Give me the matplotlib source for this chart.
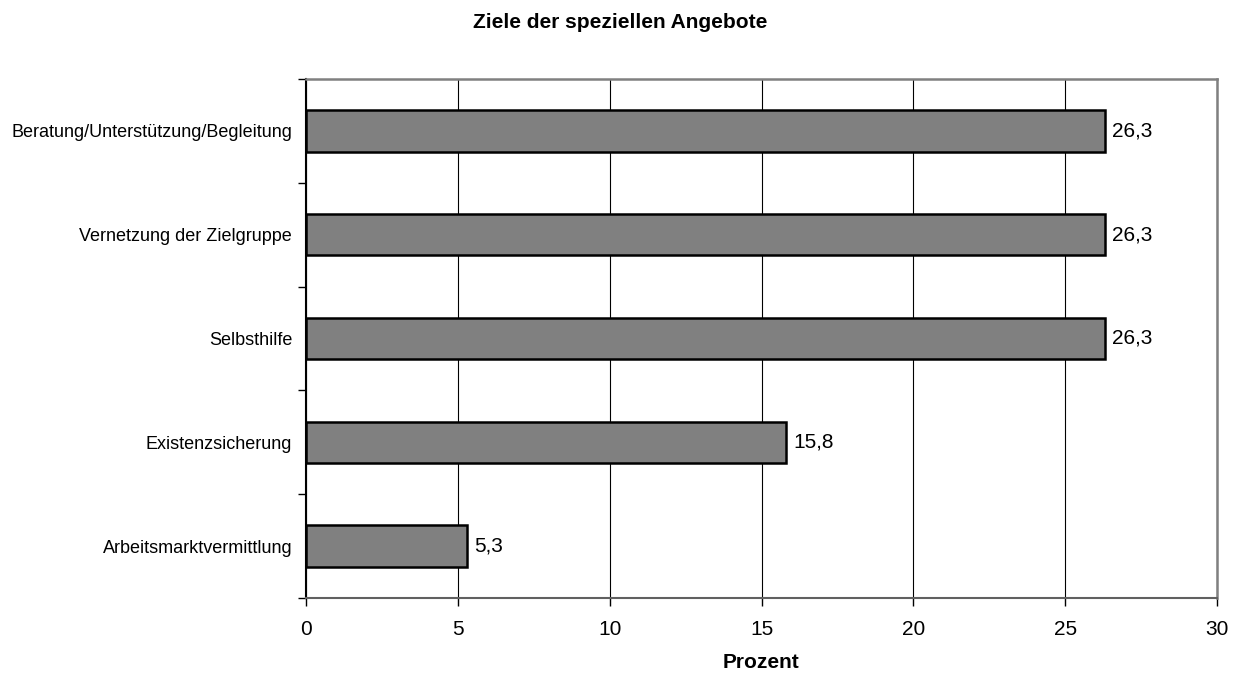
import matplotlib
matplotlib.use("Agg")
import matplotlib.pyplot as plt
import numpy as np

plt.rcParams['font.family'] = ['Liberation Sans', 'DejaVu Sans']

# Daten (von unten nach oben)
kategorien = ['Arbeitsmarktvermittlung', 'Existenzsicherung', 'Selbsthilfe',
              'Vernetzung der Zielgruppe', 'Beratung/Unterstützung/Begleitung']
werte = [5.3, 15.8, 26.3, 26.3, 26.3]
x_ticks = [0, 5, 10, 15, 20, 25, 30]

fig = plt.figure(figsize=(12.4, 6.75), dpi=100)
ax = fig.add_axes([306/1240, 1 - 598/675, (1217 - 306)/1240, (598 - 79)/675])

y = np.arange(len(kategorien))
ax.barh(y, werte, height=0.4, color='#808080', edgecolor='black', linewidth=1.8, zorder=3)

for yi, w in zip(y, werte):
    ax.text(w + 0.25, yi, f"{w:.1f}".replace('.', ','), va='center', ha='left', fontsize=15)

ax.set_xlim(0, 30)
ax.set_ylim(-0.5, len(kategorien) - 0.5)
ax.set_xticks(x_ticks)
ax.set_xticklabels([str(t) for t in x_ticks], fontsize=15)
ax.tick_params(axis='x', length=6, width=1, color='black', pad=10)

# Kategorien als Beschriftung, Striche an den Grenzen
ax.set_yticks(y)
ax.set_yticklabels(kategorien, fontsize=13)
ax.tick_params(axis='y', which='major', length=0, pad=10)
ax.set_yticks(np.arange(-0.5, len(kategorien)), minor=True)
ax.tick_params(axis='y', which='minor', length=6, width=1, color='black')

ax.xaxis.grid(True, color='black', linewidth=0.8, zorder=0)
ax.set_axisbelow(True)

for s in ['top', 'right']:
    ax.spines[s].set_color('#808080')
    ax.spines[s].set_linewidth(1.8)
ax.spines['bottom'].set_color('#606060')
ax.spines['bottom'].set_linewidth(1.5)
ax.spines['left'].set_color('black')
ax.spines['left'].set_linewidth(1.5)

ax.set_xlabel('Prozent', fontsize=15, fontweight='bold', labelpad=10)
fig.suptitle('Ziele der speziellen Angebote', fontsize=15, fontweight='bold', y=0.981)

fig.savefig('out.png', dpi=100)
